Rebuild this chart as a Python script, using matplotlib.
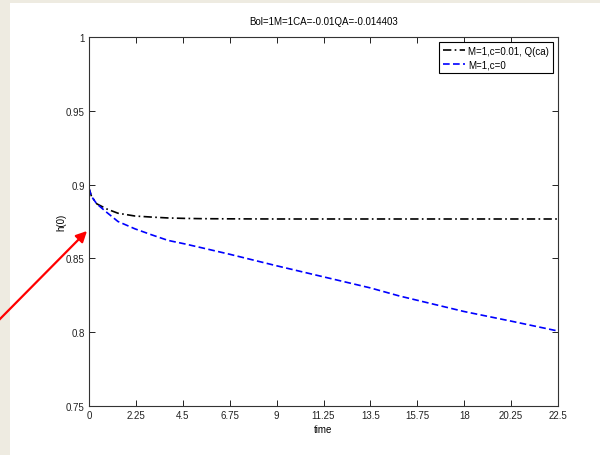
import numpy as np
import matplotlib
matplotlib.use("Agg")
import matplotlib.pyplot as plt
from matplotlib.patches import Rectangle

# values
t_ca = [0.0, 0.12, 0.37, 0.85, 1.39, 2.21, 3.0, 3.79, 4.6, 5.5, 6.75, 9.0, 13.5, 18.0, 22.5]
h_ca = [0.8975, 0.892, 0.8870, 0.8835, 0.8806, 0.8787, 0.8780, 0.8774, 0.8771, 0.8769,
        0.8768, 0.8767, 0.8767, 0.8767, 0.8767]

t_c0 = [0.0, 0.12, 0.37, 0.85, 1.39, 2.21, 3.0, 3.79, 4.6, 5.47, 6.75, 9.0, 11.25,
        13.5, 14.9, 18.0, 20.25, 22.5]
h_c0 = [0.8975, 0.892, 0.8870, 0.8812, 0.8750, 0.8700, 0.8660, 0.8622, 0.8598, 0.8570,
        0.8528, 0.8450, 0.8375, 0.8300, 0.8245, 0.8140, 0.8075, 0.8008]

xticks = [0, 2.25, 4.5, 6.75, 9, 11.25, 13.5, 15.75, 18, 20.25, 22.5]
xticklabels = ["0", "2.25", "4.5", "6.75", "9", "11.25", "13.5", "15.75", "18", "20.25", "22.5"]
yticks = [0.75, 0.8, 0.85, 0.9, 0.95, 1.0]
yticklabels = ["0.75", "0.8", "0.85", "0.9", "0.95", "1"]

plt.rcParams['font.family'] = ['Liberation Sans', 'DejaVu Sans']
plt.rcParams['font.size'] = 7

fig = plt.figure(figsize=(6.0, 4.56), dpi=100)
fig.patch.set_facecolor('#eeebe1')
# white page area
fig.patches.append(Rectangle((10 / 600, 0), 1, 452 / 456, transform=fig.transFigure,
                             facecolor='white', edgecolor='none', zorder=-10))

ax = fig.add_axes([89 / 600, 1 - 407 / 456, (558 - 89) / 600, (407 - 38) / 456])
ax.set_facecolor('white')

ax.plot(t_ca, h_ca, color='black', linestyle=(0, (5, 2, 1, 2)), linewidth=1.2,
        label='M=1,c=0.01, Q(ca)')
ax.plot(t_c0, h_c0, color='#0000ff', linestyle=(0, (4, 2)), linewidth=1.2,
        label='M=1,c=0')

ax.set_xlim(0, 22.5)
ax.set_ylim(0.75, 1.0)
ax.set_xticks(xticks)
ax.set_xticklabels(xticklabels)
ax.set_yticks(yticks)
ax.set_yticklabels(yticklabels)
ax.tick_params(direction='in', length=4, width=0.7, top=True, right=True, pad=3,
               colors='#222222')
for s in ax.spines.values():
    s.set_linewidth(0.8)
    s.set_color('#333333')

ax.set_title('Bol=1M=1CA=-0.01QA=-0.014403', fontsize=7, pad=9)
ax.set_xlabel('time', labelpad=3)
ax.set_ylabel('h(0)', labelpad=0)

leg = ax.legend(loc='upper right', fancybox=False, framealpha=1, edgecolor='black',
                fontsize=7, handlelength=2.3, handletextpad=0.3,
                borderaxespad=0.5, labelspacing=0.35)
leg.get_frame().set_linewidth(0.8)

# red arrow pointing at the curve start
ax.annotate('', xy=(87, 456 - 232), xycoords='figure pixels',
            xytext=(-2, 456 - 322), textcoords='figure pixels',
            arrowprops=dict(arrowstyle='-|>', color='#ff0000', lw=1.6,
                            mutation_scale=16, shrinkA=0, shrinkB=0),
            annotation_clip=False)

fig.savefig('out.png', dpi=100, facecolor=fig.get_facecolor())
